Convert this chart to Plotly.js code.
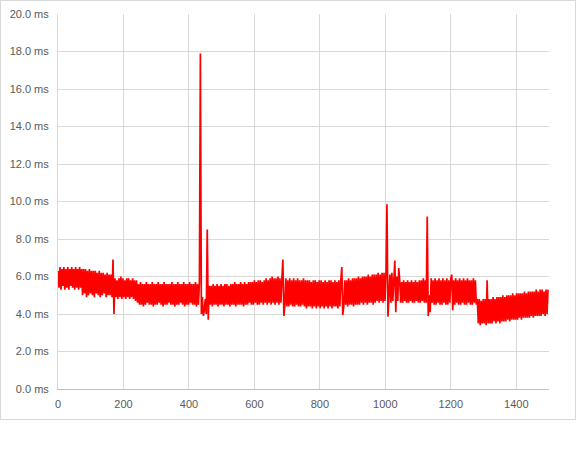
<!DOCTYPE html>
<html>
<head>
<meta charset="utf-8">
<script src="https://cdn.plot.ly/plotly-3.0.1.min.js"></script>
<style>
  html, body { margin: 0; padding: 0; background: #ffffff; }
  #chart { width: 574px; height: 418px; border: 1px solid #d9d9d9; }
</style>
</head>
<body>
<div id="chart"></div>
<script>
// Sample spacing (one plotted sample every 3 measurements)
var sampleStart = 0;
var sampleStep = 3;

// Latency readings in ms, in order
var segStart = [6.3,5.4,6.5,5.3,6.4,5.5,6.5,5.3,6.4,5.4,6.5,5.3,6.4,5.5,6.5,5.4,6.4,5.3,6.5,5.4,6.4,5.3,6.5,5.4,6.4];
var segEarly = [5.0,6.4,5.1,6.4,4.9,6.3,5.0,6.4,5.1,6.3,5.0,6.3,4.9,6.3,5.1,6.2,5.0,6.3,4.9,6.2,5.0,6.2,5.1,6.1,4.9,6.2,5.0,6.1,5.0,6.1,4.9];
var spikeA = [6.9,4.0];
var segSecond = [5.9,4.9,5.8,4.8,5.9,4.9,6.0,4.8,5.9,4.9,5.8,4.8,5.9,4.9,5.9,4.8,5.8,4.9,5.9,4.8,5.8,4.7,5.8];
var segThird = [4.6,5.6,4.5,5.7,4.5,5.6,4.4,5.6,4.5,5.7,4.6,5.6,4.5,5.6,4.5,5.7,4.4,5.6,4.5,5.6,4.5,5.7,4.6,5.6,4.5,5.6,4.4,5.7,4.5,5.6,4.5,5.6,
                4.6,5.6,4.5,5.7,4.5,5.6,4.4,5.6,4.5,5.7,4.5,5.6,4.6,5.6,4.5,5.7,4.4,5.6,4.5,5.6,4.5,5.7,4.6,5.6,4.5,5.6,4.5,5.7,4.4,5.6,4.5,5.7];
var spikeBig = [17.9,4.0,4.9,3.9,4.2,4.8,4.0,8.5,3.7];
var segFourth = [5.5,4.5,5.5,4.4,5.6,4.5,5.5,4.5,5.6,4.4,5.5,4.5,5.6,4.5,5.5,4.4,5.6,4.5,5.6,4.5,
                 5.5,4.4,5.6,4.5,5.6,4.5,5.7,4.4,5.6,4.5,5.6,4.5,5.7,4.5,5.6,4.4,5.7,4.5,5.6,4.5,
                 5.7,4.6,5.7,4.5,5.7,4.5,5.8,4.6,5.7,4.5,5.8,4.5,5.8,4.6,5.7,4.5,5.8,4.6,5.9,4.5,
                 5.8,4.6,5.9,4.5,6.0,4.6,5.9,4.5,5.9,4.6,6.0,4.5,5.9,4.6];
var spikeB = [5.9,6.9,3.9];
var segFifth = [4.5,5.9,4.4,5.8,4.4,5.9,4.5,5.8,4.4,5.9,4.4,5.8,4.5,5.9,4.4,5.8,4.4,5.8,4.5,5.9,
                4.4,5.8,4.3,5.8,4.4,5.8,4.4,5.7,4.3,5.8,4.4,5.8,4.3,5.7,4.4,5.8,4.3,5.8,4.4,5.7,
                4.3,5.8,4.4,5.7,4.3,5.8,4.4,5.8,4.3,5.7,4.4,5.8,4.4,5.7,4.3,5.8,4.4,5.8];
var spikeC = [6.5,3.95];
var segSixth = [4.4,5.8,4.5,5.8,4.4,5.9,4.5,5.8,4.5,5.9,4.4,5.9,4.5,5.9,4.5,6.0,4.5,5.9,4.6,6.0,
                4.5,6.0,4.6,6.0,4.5,6.1,4.6,6.0,4.6,6.1,4.5,6.1,4.6,6.1,4.7,6.2,4.6,6.1,4.7,6.2,
                4.6,6.2,4.7,6.2];
var spikeD = [9.85,3.85,4.7,6.1,4.6,6.2,4.7,6.3,6.85,4.1,6.0,4.7,6.45];
var segSeventh = [5.8,4.6,5.7,4.6,5.8,4.7,5.7,4.6,5.8,4.6,5.7,4.7,5.8,4.6,5.7,4.6,5.8,4.7,5.7,4.6,5.8,4.6,5.8,4.7,5.9,4.6,5.8,4.6];
var spikeE = [9.2,3.9,5.0,4.1];
var segEighth = [5.9,4.6,5.8,4.5,5.9,4.5,5.8,4.6,5.9,4.5,5.8,4.5,5.9,4.6,5.8,4.5,5.9,4.5,5.8,4.6,
                 5.9,6.1,4.2,
                 5.8,4.5,5.9,4.6,5.8,4.5,5.9,4.5,5.8,4.6,5.9,4.5,5.8,4.5,5.9,4.6,5.8,4.5,5.8,4.5,5.9,4.6,5.8,4.5];
var segLast = [4.8,3.5,4.8,3.4,4.7,3.5,4.8,3.5,4.8,3.4,5.8,3.5,
               4.8,3.5,4.8,3.5,4.9,3.6,4.8,3.5,4.9,3.6,4.9,3.5,4.9,3.6,5.0,3.6,4.9,3.6,5.0,3.7,
               5.0,3.6,5.0,3.7,5.1,3.7,5.0,3.7,5.1,3.7,5.1,3.8,5.1,3.7,5.1,3.8,5.2,3.8,5.1,3.8,
               5.2,3.8,5.2,3.9,5.2,3.8,5.2,3.9,5.3,3.9,5.2,3.9,5.3,3.9,5.3,4.0,5.2,3.9,5.3,4.0,
               5.3];

var xTicks = [0,200,400,600,800,1000,1200,1400];
var yTicks = [0,2,4,6,8,10,12,14,16,18,20];

var latency = [].concat(segStart, segEarly, spikeA, segSecond, segThird, spikeBig, segFourth,
                        spikeB, segFifth, spikeC, segSixth, spikeD, segSeventh, spikeE, segEighth, segLast);

var tickFont = {family: '"Liberation Sans", Arial, sans-serif', size: 11, color: '#595959'};

var trace = {
  type: 'scatter',
  mode: 'lines',
  x0: sampleStart,
  dx: sampleStep,
  y: latency,
  line: {color: '#ff0000', width: 1.7},
  hoverinfo: 'skip'
};

var layout = {
  width: 574,
  height: 418,
  margin: {l: 57, r: 26, t: 13, b: 30, pad: 0},
  paper_bgcolor: '#ffffff',
  plot_bgcolor: '#ffffff',
  showlegend: false,
  xaxis: {
    range: [0, 1500],
    tickvals: xTicks,
    ticktext: xTicks.map(String),
    showgrid: true,
    gridcolor: '#d9d9d9',
    gridwidth: 1,
    zeroline: false,
    showline: true,
    linecolor: '#bfbfbf',
    linewidth: 1,
    ticks: '',
    ticklabelstandoff: 5,
    tickfont: tickFont,
    fixedrange: true
  },
  yaxis: {
    range: [0, 20],
    tickvals: yTicks,
    ticktext: yTicks.map(function (v) { return v.toFixed(1) + ' ms'; }),
    showgrid: true,
    gridcolor: '#d9d9d9',
    gridwidth: 1,
    zeroline: false,
    showline: true,
    linecolor: '#d9d9d9',
    linewidth: 1,
    ticks: '',
    ticklabelstandoff: 6,
    tickfont: tickFont,
    fixedrange: true
  }
};

Plotly.newPlot('chart', [trace], layout, {displayModeBar: false, staticPlot: true});
</script>
</body>
</html>
